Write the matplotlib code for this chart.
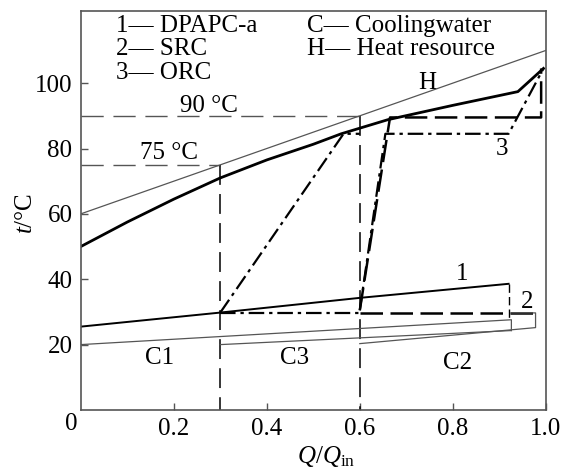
import matplotlib
matplotlib.use("Agg")
import matplotlib.pyplot as plt

# -----------------------------
# Data
# -----------------------------
# heat resource line H
x_heat = [0.0, 1.0]
t_heat = [60, 110]

# cycle 1 (DPAPC-a) heat absorption, thick solid
x_c1_top = [0.0, 0.1, 0.2, 0.3, 0.4, 0.5, 0.56, 0.66, 0.8, 0.94, 0.995]
t_c1_top = [50, 57.5, 64.5, 71, 76.5, 81.3, 84.5, 88.8, 93.2, 97.4, 104.5]

# cycle 1 condensation
x_c1_bot = [0.0, 0.3, 0.6, 0.92]
t_c1_bot = [25.5, 29.8, 34.3, 38.6]

# ORC (3), dash-dot
x_orc_a = [0.3, 0.565, 0.6]
t_orc_a = [29.8, 84.5, 84.5]
x_orc_b = [0.6, 0.655, 0.92, 0.995]
t_orc_b = [30.5, 84.5, 84.5, 104.5]
x_orc_cond = [0.3, 0.6]
t_orc_cond = [29.8, 29.8]

# SRC (2), dashed
x_src = [0.6, 0.665, 0.99, 0.99]
t_src = [30.5, 89.5, 89.5, 104.5]
x_src_cond = [0.6, 0.978]
t_src_cond = [29.7, 29.7]

# cooling water lines
x_cw1 = [0.0, 0.926, 0.926]
t_cw1 = [20, 27.6, 24.3]
x_cw3 = [0.3, 0.926]
t_cw3 = [20, 24.3]
x_cw2 = [0.6, 0.978, 0.978, 0.926]
t_cw2 = [20.3, 25.2, 29.7, 29.7]

x_ticks = [0.2, 0.4, 0.6, 0.8, 1.0]
x_tick_labels = ["0.2", "0.4", "0.6", "0.8", "1.0"]
y_ticks = [20, 40, 60, 80, 100]

# -----------------------------
# Style
# -----------------------------
plt.rcParams["font.family"] = ["Liberation Serif", "DejaVu Serif"]
plt.rcParams["mathtext.fontset"] = "custom"
plt.rcParams["mathtext.rm"] = "Liberation Serif"
plt.rcParams["mathtext.it"] = "Liberation Serif:italic"
fs = 18

fig = plt.figure(figsize=(5.65, 4.68), dpi=100)
ax = fig.add_axes([0.143, 0.124, 0.823, 0.852])

gray = "#555555"
dd = (7, 2.2, 1.5, 2.2)

# reference temperature lines
ax.plot([0, 0.6], [90, 90], color=gray, lw=1.0, dashes=(16, 7))
ax.plot([0, 0.3], [75, 75], color=gray, lw=1.0, dashes=(16, 7))
ax.plot([0.3, 0.3], [75, 0], color="black", lw=1.1, dashes=(13, 6))
ax.plot([0.6, 0.6], [90, 0], color="black", lw=1.1, dashes=(13, 6))

# heat resource
ax.plot(x_heat, t_heat, color=gray, lw=0.9)

# cycle curves
ax.plot(x_c1_top, t_c1_top, color="black", lw=2.0)
ax.plot(x_c1_bot, t_c1_bot, color="black", lw=1.4)
ax.plot([0.92, 0.92], [38.6, 27.6], color="black", lw=1.0, dashes=(6, 3))

ax.plot(x_orc_a, t_orc_a, color="black", lw=1.6, dashes=dd)
ax.plot(x_orc_b, t_orc_b, color="black", lw=1.6, dashes=dd)
ax.plot(x_orc_cond, t_orc_cond, color="black", lw=1.6, dashes=dd)

ax.plot(x_src, t_src, color="black", lw=1.8, dashes=(9, 3))
ax.plot(x_src_cond, t_src_cond, color="black", lw=1.8, dashes=(9, 3))

# cooling water
ax.plot(x_cw1, t_cw1, color=gray, lw=0.9)
ax.plot(x_cw3, t_cw3, color=gray, lw=0.9)
ax.plot(x_cw2, t_cw2, color=gray, lw=0.9)

# labels on the plot
ax.text(0.745, 100, "H", fontsize=fs, ha="center", va="center")
ax.text(0.275, 93, "90 °C", fontsize=fs, ha="center", va="center")
ax.text(0.19, 78.5, "75 °C", fontsize=fs, ha="center", va="center")
ax.text(0.82, 41.5, "1", fontsize=fs, ha="center", va="center")
ax.text(0.96, 33, "2", fontsize=fs, ha="center", va="center")
ax.text(0.905, 80, "3", fontsize=fs, ha="center", va="center")
ax.text(0.17, 16, "C1", fontsize=fs, ha="center", va="center")
ax.text(0.46, 16, "C3", fontsize=fs, ha="center", va="center")
ax.text(0.81, 14.5, "C2", fontsize=fs, ha="center", va="center")

# legend as text
ax.text(0.076, 117.6, "1— DPAPC-a", fontsize=fs, ha="left", va="center")
ax.text(0.076, 110.3, "2— SRC", fontsize=fs, ha="left", va="center")
ax.text(0.076, 103.0, "3— ORC", fontsize=fs, ha="left", va="center")
ax.text(0.486, 117.6, "C— Coolingwater", fontsize=fs, ha="left", va="center")
ax.text(0.486, 110.3, "H— Heat resource", fontsize=fs, ha="left", va="center")

# axes
ax.set_xlim(0, 1.0)
ax.set_ylim(0, 122)
ax.set_xticks(x_ticks)
ax.set_xticklabels(x_tick_labels)
ax.set_yticks(y_ticks)
ax.tick_params(direction="in", length=5, width=1.0, color=gray,
               labelsize=fs, pad=6)
for s in ax.spines.values():
    s.set_color(gray)
    s.set_linewidth(1.2)

ax.text(-0.008, -0.9, "0", fontsize=fs, ha="right", va="top", clip_on=False)
ax.set_xlabel(r"$Q/Q_{\rm in}$", fontsize=fs)
ax.set_ylabel(r"$t$/°C", fontsize=fs)
ax.xaxis.set_label_coords(0.527, -0.085)
ax.yaxis.set_label_coords(-0.095, 0.494)

fig.savefig("out.png", dpi=100)
